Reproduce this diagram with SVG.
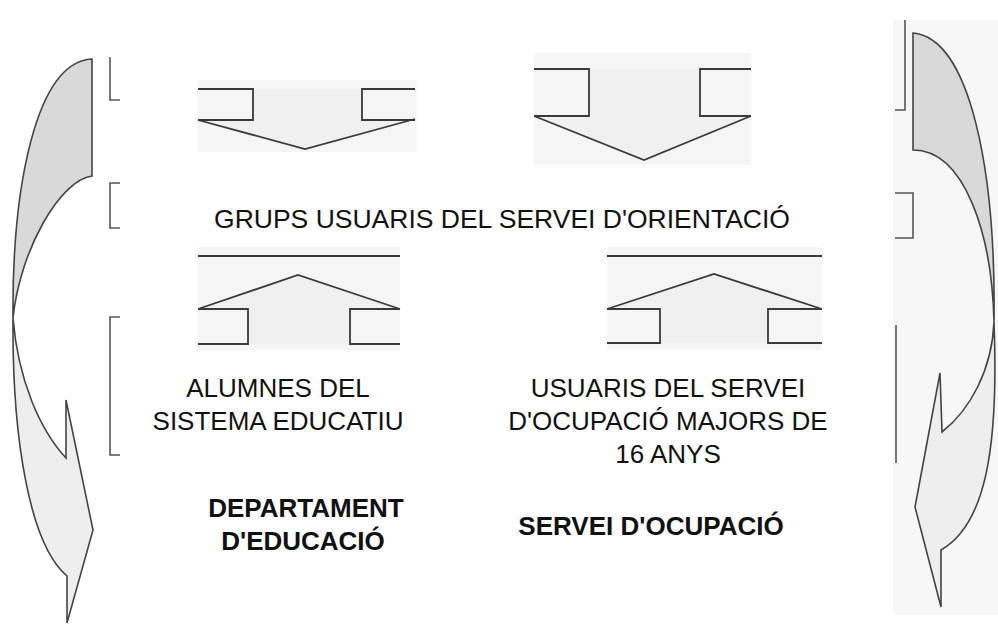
<svg xmlns="http://www.w3.org/2000/svg" width="998" height="625" viewBox="0 0 998 625">
<style>
.bg{fill:#f5f5f5;stroke:none}
.ln{fill:none;stroke:#3a3a3a;stroke-width:1.8;stroke-linejoin:miter}
.br{fill:none;stroke:#555;stroke-width:1.6}
.body{fill:#f0f0f0;stroke:none}
.dark{fill:#d9d9d9;stroke:#444;stroke-width:1.6}
.light{fill:#eeeeee;stroke:#444;stroke-width:1.6}
.t{font-family:"Liberation Sans",Arial,sans-serif;font-size:26px;fill:#111;text-anchor:middle}
.b{font-weight:bold}
</style>
<rect width="998" height="625" fill="#ffffff"/>
<rect x="893" y="20" width="105" height="595" fill="#f7f7f7"/>

<g id="connectors">
  <g id="left-curved-arrow">
    <path class="dark" d="M92,59 L92,176 C60,180 20,250 13,318 C12,190 35,62 92,59 Z"/>
    <path class="light" d="M13,318 C12,440 30,545 67,576 L67,623 L93,530 L66,400 L66,458 C40,430 18,380 13,318 Z"/>
  </g>
  <g id="right-curved-arrow">
    <path class="dark" d="M913,33 L913,150 C965,150 992,235 994,322 C996,170 970,38 913,33 Z"/>
    <path class="light" d="M994,322 C992,370 970,410 942,432 L940,373 L915,507 L941,607 L941,550 C985,525 999,450 994,322 Z"/>
  </g>
  <g id="left-brackets">
    <path class="br" d="M110,57 L110,100 L120,100"/>
    <path class="br" d="M120,183 L110,183 L110,228 L120,228"/>
    <path class="br" d="M120,317 L110,317 L110,455 L120,455"/>
  </g>
  <g id="right-brackets">
    <path class="br" d="M905,20 L905,110 L895,110"/>
    <path class="br" d="M895,193 L913,193 L913,238 L895,238"/>
    <path class="br" d="M896,325 L896,463"/>
  </g>
  <g id="arrow-down-left">
    <rect class="bg" x="198" y="80" width="219" height="72"/>
    <path class="body" d="M253,89 L362,89 L362,120 L415,120 L305,149 L198,120 L253,120 Z"/>
    <path class="ln" d="M198,89 L253,89 L253,120 L198,120"/>
    <path class="ln" d="M415,89 L362,89 L362,120 L415,120"/>
    <path class="ln" d="M198,120 L305,149 L415,119"/>
  </g>
  <g id="arrow-down-right">
    <rect class="bg" x="534" y="53" width="217" height="112"/>
    <path class="body" d="M589,69 L700,69 L700,116 L751,116 L644,160 L534,116 L589,116 Z"/>
    <path class="ln" d="M534,69 L589,69 L589,116 L534,116"/>
    <path class="ln" d="M751,69 L700,69 L700,116 L751,116"/>
    <path class="ln" d="M534,116 L644,160 L751,116"/>
  </g>
  <g id="arrow-up-left">
    <rect class="bg" x="198" y="247" width="202" height="103"/>
    <path class="body" d="M198,309 L298,275 L400,309 L350,309 L350,344 L248,344 L248,309 Z"/>
    <path class="ln" d="M198,256 L400,256"/>
    <path class="ln" d="M198,309 L298,275 L400,309"/>
    <path class="ln" d="M198,309 L248,309 L248,344 L198,344"/>
    <path class="ln" d="M400,309 L350,309 L350,344 L400,344"/>
  </g>
  <g id="arrow-up-right">
    <rect class="bg" x="607" y="247" width="215" height="103"/>
    <path class="body" d="M607,309 L714,274 L822,309 L768,309 L768,343 L660,343 L660,309 Z"/>
    <path class="ln" d="M607,256 L822,256"/>
    <path class="ln" d="M607,309 L714,274 L822,309"/>
    <path class="ln" d="M607,309 L660,309 L660,343 L607,343"/>
    <path class="ln" d="M822,309 L768,309 L768,343 L822,343"/>
  </g>
</g>

<g id="node-grups">
  <text class="t" x="502" y="228" style="font-size:26.5px">GRUPS USUARIS DEL SERVEI D'ORIENTACIÓ</text>
</g>
<g id="node-alumnes">
  <text class="t" x="278" y="397">ALUMNES DEL</text>
  <text class="t" x="278" y="430">SISTEMA EDUCATIU</text>
</g>
<g id="node-usuaris">
  <text class="t" x="668" y="397">USUARIS DEL SERVEI</text>
  <text class="t" x="668" y="430">D'OCUPACIÓ MAJORS DE</text>
  <text class="t" x="668" y="463">16 ANYS</text>
</g>
<g id="node-departament">
  <text class="t b" x="306" y="517">DEPARTAMENT</text>
  <text class="t b" x="303" y="550">D'EDUCACIÓ</text>
</g>
<g id="node-servei">
  <text class="t b" x="651" y="535">SERVEI D'OCUPACIÓ</text>
</g>
</svg>
